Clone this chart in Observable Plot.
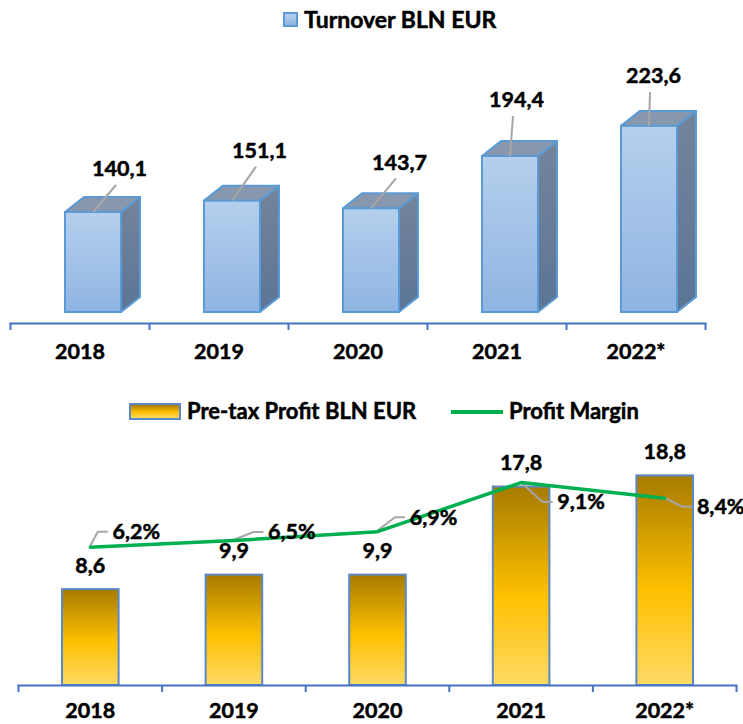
<!DOCTYPE html>
<html><head><meta charset="utf-8">
<script src="https://cdn.jsdelivr.net/npm/d3@7"></script>
<script src="https://cdn.jsdelivr.net/npm/@observablehq/plot@0.6"></script>
<style>
body{margin:0;background:#fff;font-family:Lato,"DejaVu Sans",sans-serif;}
#root{position:relative;width:743px;height:724px;overflow:hidden;background:#fff;}
.leg{position:absolute;font-weight:bold;font-size:22px;color:#000;white-space:nowrap;line-height:1;-webkit-text-stroke:0.5px #000;}
.sw{position:absolute;box-sizing:border-box;}
</style></head><body><div id="root"></div>
<script>
// ---- data ----
const years = ["2018", "2019", "2020", "2021", "2022*"];
const turnover = [140.1, 151.1, 143.7, 194.4, 223.6];
const profit = [8.6, 9.9, 9.9, 17.8, 18.8];
const margin = [6.2, 6.5, 6.9, 9.1, 8.4];
// manual label placement (pixel nudges, as in the original chart)
const turnoverLabelDx = [26, 27, 28, 6, 4];
const turnoverLabelDy = [-43, -50, -46, -56, -50];
const marginLabelDx = [46, 58, 56, 60, 56];
const marginLabelDy = [-15, -8, -14, 20, 9];

const fmt = v => v.toFixed(1).replace(".", ",");
const FONT = "Lato, 'DejaVu Sans', sans-serif";
const LABEL = {fontSize: 21.5, fontWeight: "bold", fill: "#000", stroke: "#000", strokeWidth: 0.5};
const root = document.getElementById("root");
function place(el, top) { el.style.position = "absolute"; el.style.left = "0px"; el.style.top = top + "px"; root.appendChild(el); }
function div(cls, css, html) { const d = document.createElement("div"); d.className = cls; d.style.cssText = css; if (html) d.textContent = html; root.appendChild(d); return d; }

// ---- top chart: turnover (3D columns) ----
const topData = years.map((y, i) => ({i, year: y, v: turnover[i]}));
const Y0 = 43.1;
const FRONT_L = 55, FRONT_R = 28, DX = 19, DY = 15, FC = 13.5;

function bars3D(data) {
  return Plot.rect(data, {
    x1: d => d.i, x2: d => d.i + 1, y1: () => Y0, y2: d => d.v,
    render(index, scales, values) {
      const g = d3.create("svg:g");
      for (const i of index) {
        const L = values.x1[i] + FRONT_L, R = values.x2[i] - FRONT_R;
        const T = values.y2[i], B = values.y1[i];
        g.append("path").attr("d", `M${R},${T}L${R + DX},${T - DY}L${R + DX},${B - DY}L${R},${B}Z`)
          .attr("fill", "url(#gSide)").attr("stroke", "#5b9bd5").attr("stroke-width", 2).attr("stroke-linejoin", "round");
        g.append("path").attr("d", `M${L},${T}L${L + DX},${T - DY}L${R + DX},${T - DY}L${R},${T}Z`)
          .attr("fill", "#8797ad").attr("stroke", "#5b9bd5").attr("stroke-width", 2).attr("stroke-linejoin", "round");
        g.append("rect").attr("x", L).attr("y", T).attr("width", R - L).attr("height", B - T)
          .attr("fill", "url(#gFront)").attr("stroke", "#5b9bd5").attr("stroke-width", 2);
      }
      return g.node();
    }
  });
}

function leaders(data, xf, yf, pathFn) {
  return Plot.dot(data, {
    x: xf, y: yf,
    render(index, scales, values) {
      const g = d3.create("svg:g").attr("fill", "none").attr("stroke", "#a6a6a6").attr("stroke-width", 2);
      for (const i of index) g.append("path").attr("d", pathFn(values.x[i], values.y[i], i));
      return g.node();
    }
  });
}

function nudged(dxArr, dyArr, base) {
  return function(index, scales, values, dims, ctx, next) {
    const node = next(index, scales, values, dims, ctx);
    d3.select(node).selectAll("text").each(function(_, k) {
      const i = index[k];
      const el = d3.select(this);
      const t = el.attr("transform");
      el.attr("transform", `${t || ""} translate(${base + dxArr[i]},${dyArr[i]})`);
    });
    return node;
  };
}

const topPlot = Plot.plot({
  width: 743, height: 330,
  marginLeft: 10, marginRight: 38, marginTop: 0, marginBottom: 47,
  style: {fontFamily: FONT, overflow: "visible", background: "transparent"},
  x: {type: "linear", domain: [0, 5]},
  y: {domain: [Y0, 250], range: [272, 272 - 1.031 * (250 - Y0)], axis: null},
  marks: [
    bars3D(topData),
    leaders(topData, d => d.i + 0.5, d => d.v, (x, y, i) => {
      const fx = x + FC, cx = fx + turnoverLabelDx[i], cy = y + turnoverLabelDy[i];
      return `M${fx},${y}L${cx - 3},${cy + 16}`;
    }),
    Plot.text(topData, {
      x: d => d.i + 0.5, y: d => d.v, text: d => fmt(d.v), ...LABEL,
      render: nudged(turnoverLabelDx, turnoverLabelDy, FC)
    }),
    Plot.frame({anchor: "bottom", stroke: "#4472c4", strokeWidth: 2}),
    Plot.axisX({ticks: [0, 1, 2, 3, 4, 5], tickSize: 7, tickFormat: () => "", stroke: "#4472c4", strokeWidth: 2}),
    Plot.text(topData, {x: d => d.i + 0.5, frameAnchor: "bottom", dy: 35, text: "year", ...LABEL})
  ]
});
topPlot.insertAdjacentHTML("afterbegin", `<defs>
<linearGradient id="gFront" x1="0" y1="0" x2="0" y2="1"><stop offset="0" stop-color="#b5cfed"/><stop offset="1" stop-color="#8fb4e2"/></linearGradient>
<linearGradient id="gSide" x1="0" y1="0" x2="0" y2="1"><stop offset="0" stop-color="#74849c"/><stop offset="1" stop-color="#5b7596"/></linearGradient>
</defs>`);
place(topPlot, 40);

// top legend
div("sw", "left:283px;top:12px;width:15px;height:15px;border:2px solid #5b9bd5;background:linear-gradient(#b5cfed,#8fb4e2);");
div("leg", "left:304px;top:8px;font-size:23px;", "Turnover BLN EUR");

// ---- bottom chart: profit (columns) + margin (line) ----
const botData = years.map((y, i) => ({i, year: y, p: profit[i], m: margin[i]}));
const YMAX = 20, Y2MAX = 10, K = YMAX / Y2MAX;

const botPlot = Plot.plot({
  width: 743, height: 294,
  marginLeft: 18, marginRight: 7, marginTop: 0, marginBottom: 39,
  style: {fontFamily: FONT, overflow: "visible", background: "transparent"},
  x: {type: "linear", domain: [0, 5]},
  y: {domain: [0, YMAX], range: [255, 255 - 11.15 * YMAX], axis: null},
  marks: [
    Plot.rect(botData, {x1: d => d.i, x2: d => d.i + 1, y1: 0, y2: "p", insetLeft: 44, insetRight: 43,
      fill: "url(#gGold2)", stroke: "#5b88c6", strokeWidth: 2}),
    Plot.text(botData, {x: d => d.i + 0.5, y: "p", dy: -24, text: d => fmt(d.p), ...LABEL}),
    leaders(botData, d => d.i + 0.5, d => d.m * K, (x, y, i) => {
      const cx = x + marginLabelDx[i], cy = y + marginLabelDy[i], left = cx - 25;
      return `M${x},${y}L${left - 13},${cy}L${left - 3},${cy}`;
    }),
    Plot.line(botData, {x: d => d.i + 0.5, y: d => d.m * K, stroke: "#00b050", strokeWidth: 3.5}),
    Plot.text(botData, {
      x: d => d.i + 0.5, y: d => d.m * K, text: d => fmt(d.m) + "%", ...LABEL,
      render: nudged(marginLabelDx, marginLabelDy, 0)
    }),
    Plot.frame({anchor: "bottom", stroke: "#4472c4", strokeWidth: 2}),
    Plot.axisX({ticks: [0, 1, 2, 3, 4, 5], tickSize: 7, tickFormat: () => "", stroke: "#4472c4", strokeWidth: 2}),
    Plot.text(botData, {x: d => d.i + 0.5, frameAnchor: "bottom", dy: 32, text: "year", ...LABEL})
  ]
});
botPlot.insertAdjacentHTML("afterbegin", `<defs>
<linearGradient id="gGold2" x1="0" y1="0" x2="0" y2="1"><stop offset="0" stop-color="#a67b00"/><stop offset="0.55" stop-color="#ffc000"/><stop offset="1" stop-color="#ffda66"/></linearGradient>
</defs>`);
place(botPlot, 430);

// bottom legend
div("sw", "left:129px;top:403px;width:52px;height:17px;border:2px solid #5b88c6;background:linear-gradient(#a67b00,#ffc000 55%,#ffda66);");
div("leg", "left:187px;top:400px;", "Pre-tax Profit BLN EUR");
div("sw", "left:451px;top:410px;width:52px;height:3.5px;background:#00b050;");
div("leg", "left:509px;top:400px;", "Profit Margin");
</script></body></html>
